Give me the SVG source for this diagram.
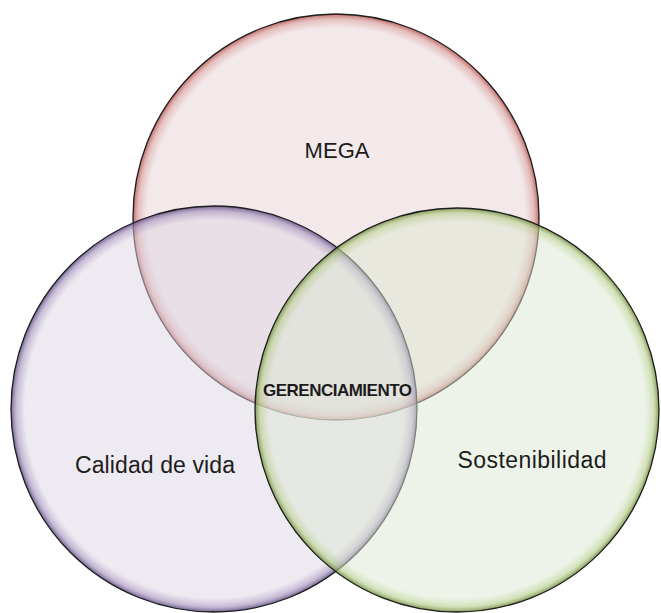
<svg xmlns="http://www.w3.org/2000/svg" width="661" height="613" viewBox="0 0 661 613">
<defs>
<radialGradient id="gRed" cx="0.5" cy="0.5" r="0.5">
<stop offset="0" stop-color="#e7d3d5" stop-opacity="0.5"/>
<stop offset="0.93" stop-color="#e7d3d5" stop-opacity="0.5"/>
<stop offset="0.975" stop-color="#d49a99" stop-opacity="0.65"/>
<stop offset="1" stop-color="#b5504e" stop-opacity="0.85"/>
</radialGradient>
<radialGradient id="gPur" cx="0.5" cy="0.5" r="0.5">
<stop offset="0" stop-color="#ddd5e3" stop-opacity="0.5"/>
<stop offset="0.93" stop-color="#ddd5e3" stop-opacity="0.5"/>
<stop offset="0.975" stop-color="#a593bd" stop-opacity="0.65"/>
<stop offset="1" stop-color="#5e4a80" stop-opacity="0.85"/>
</radialGradient>
<radialGradient id="gGrn" cx="0.5" cy="0.5" r="0.5">
<stop offset="0" stop-color="#dde7d3" stop-opacity="0.5"/>
<stop offset="0.93" stop-color="#dde7d3" stop-opacity="0.5"/>
<stop offset="0.975" stop-color="#b8cf8f" stop-opacity="0.65"/>
<stop offset="1" stop-color="#6f8a3c" stop-opacity="0.85"/>
</radialGradient>
</defs>
<style>
.ring{stroke:#1e1e1e;stroke-width:1.3}
.lbl{font-family:"Liberation Sans",Arial,sans-serif;fill:#1c1c1c;text-anchor:middle}
</style>
<rect width="661" height="613" fill="#ffffff"/>
<g id="mega">
<circle class="ring" cx="336" cy="217" r="203" fill="url(#gRed)"/>
</g>
<g id="calidad">
<circle class="ring" cx="214" cy="409" r="203" fill="url(#gPur)"/>
</g>
<g id="sostenibilidad">
<circle class="ring" cx="457" cy="410" r="202" fill="url(#gGrn)"/>
</g>
<g id="labels">
<text class="lbl" x="337" y="158" font-size="22" textLength="65">MEGA</text>
<text class="lbl" x="155" y="473" font-size="23" textLength="160">Calidad de vida</text>
<text class="lbl" x="532" y="468" font-size="23" textLength="149">Sostenibilidad</text>
<text class="lbl" x="337.5" y="396" font-size="17" font-weight="bold" textLength="149">GERENCIAMIENTO</text>
</g>
<g id="connectors"/>
</svg>
